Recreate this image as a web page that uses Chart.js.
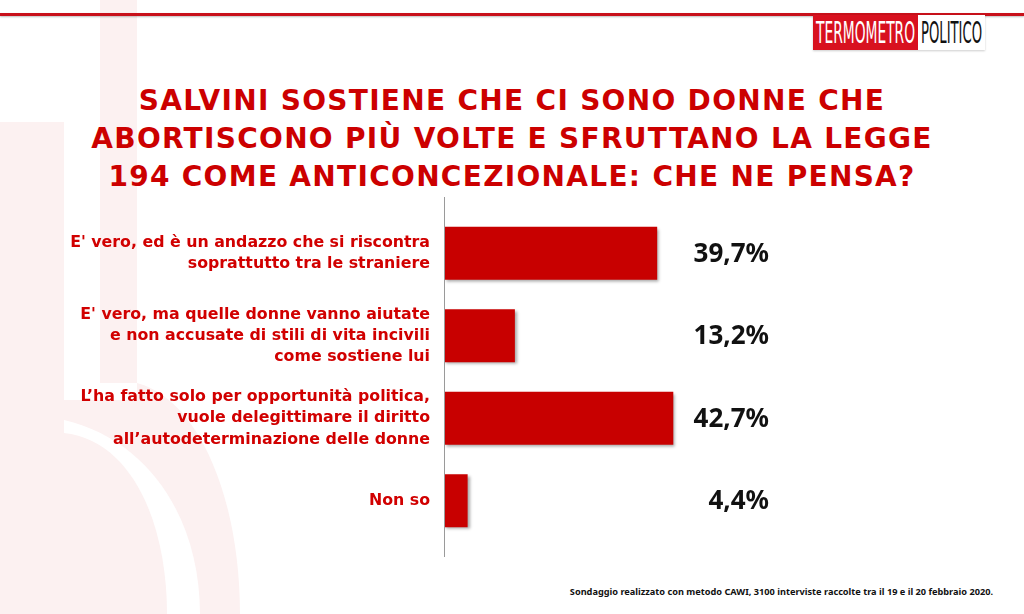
<!DOCTYPE html>
<html>
<head>
    <title>Termometro Politico: Salvini e la legge 194</title>
    <meta charset="UTF-8">
    <script src="https://cdn.jsdelivr.net/npm/chart.js"></script>
    <style>
        html, body { margin: 0; padding: 0; background: #fff; }
        body { width: 1024px; height: 614px; position: relative; overflow: hidden; font-family: "Noto Sans", sans-serif; }
        #topline { position: absolute; left: 0; top: 13px; width: 1024px; height: 3px; background: #c8101a; box-shadow: 0 1px 2px rgba(0,0,0,0.25); }
        #logo { position: absolute; left: 813px; top: 15px; height: 35px; display: flex; box-shadow: 0 1px 2px rgba(0,0,0,0.2); }
        #logo div { height: 35px; overflow: hidden; position: relative; }
        #logo span { position: absolute; left: 3px; top: 0; white-space: nowrap; font-family: "Liberation Sans Narrow", "DejaVu Sans Condensed", sans-serif; font-size: 31px; line-height: 35px; transform-origin: left center; }
        #logo .t { background: #d8111f; color: #fff; width: 105px; }
        #logo .p { background: #fff; color: #111; width: 67px; }
        #title { position: absolute; left: 0; top: 82px; width: 1024px; text-align: center; color: #cc0000; font-family: "DejaVu Sans", sans-serif; font-weight: bold; font-size: 28px; letter-spacing: 1.3px; line-height: 38px; }
        #foot { position: absolute; right: 31px; top: 585px; font-size: 9.2px; font-weight: bold; color: #111; }
        #bg { position: absolute; left: 0; top: 0; }
        canvas { position: absolute; left: 0; top: 0; }
    </style>
</head>
<body>
    <svg id="bg" width="1024" height="614">
        <g fill="#fcf1f1">
            <rect x="100" y="0" width="37" height="383"></rect>
            <rect x="0" y="122" width="64" height="320"></rect>
            <path d="M0 433 L64 433 C130 440 167 520 167 614 L0 614 Z"></path>
            <path d="M137 383 C200 400 240 500 240 614 L200 614 C200 520 150 440 64 420 L64 400 L137 400 Z"></path>
        </g>
    </svg>
    <div id="topline"></div>
    <div id="logo"><div class="t"><span>TERMOMETRO</span></div><div class="p"><span>POLITICO</span></div></div>
    <div id="title">SALVINI SOSTIENE CHE CI SONO DONNE CHE<br>ABORTISCONO PIÙ VOLTE E SFRUTTANO LA LEGGE<br>194 COME ANTICONCEZIONALE: CHE NE PENSA?</div>
    <div id="foot">Sondaggio realizzato con metodo CAWI, 3100 interviste raccolte tra il 19 e il 20 febbraio 2020.</div>
    <canvas id="pollChart" width="1024" height="614"></canvas>
    <script>
        const answers = [
            ["E' vero, ed è un andazzo che si riscontra", "soprattutto tra le straniere"],
            ["E' vero, ma quelle donne vanno aiutate", "e non accusate di stili di vita incivili", "come sostiene lui"],
            ["L’ha fatto solo per opportunità politica,", "vuole delegittimare il diritto", "all’autodeterminazione delle donne"],
            ["Non so"]
        ];
        const percentages = [39.7, 13.2, 42.7, 4.4];
        const valueLabels = ['39,7%', '13,2%', '42,7%', '4,4%'];

        // squeeze the logo words into their boxes
        document.querySelectorAll('#logo span').forEach(s => {
            const box = s.parentElement.clientWidth - 6;
            s.style.transform = 'scaleX(' + (box / s.scrollWidth) + ')';
        });

        const barExtras = {
            id: 'barExtras',
            beforeDatasetsDraw(chart) {
                const ctx = chart.ctx;
                ctx.save();
                ctx.shadowColor = 'rgba(0,0,0,0.35)';
                ctx.shadowOffsetX = 2;
                ctx.shadowOffsetY = 2;
                ctx.shadowBlur = 3;
            },
            afterDatasetsDraw(chart) {
                const ctx = chart.ctx;
                ctx.restore();
                const area = chart.chartArea;
                // axis line, a bit longer than the bars area
                ctx.save();
                ctx.strokeStyle = '#9a9a9a';
                ctx.lineWidth = 1;
                ctx.beginPath();
                ctx.moveTo(area.left + 0.5, area.top - 15);
                ctx.lineTo(area.left + 0.5, area.bottom + 15);
                ctx.stroke();
                // values
                ctx.fillStyle = '#111';
                ctx.font = 'bold 26px "Noto Sans"';
                ctx.textAlign = 'right';
                ctx.textBaseline = 'middle';
                chart.getDatasetMeta(0).data.forEach((bar, i) => {
                    ctx.fillText(valueLabels[i], area.left + 325, bar.y + 1);
                });
                ctx.restore();
            }
        };

        const ctx = document.getElementById('pollChart').getContext('2d');
        new Chart(ctx, {
            type: 'bar',
            data: {
                labels: answers,
                datasets: [{
                    data: percentages,
                    backgroundColor: '#c80000',
                    barPercentage: 0.64,
                    categoryPercentage: 1
                }]
            },
            options: {
                indexAxis: 'y',
                responsive: false,
                animation: false,
                layout: { padding: { top: 212, bottom: 72, left: 0, right: 43 } },
                scales: {
                    x: { display: false, min: 0, max: 100 },
                    y: {
                        grid: { display: false },
                        border: { display: false },
                        afterFit(scale) { scale.width = 444; },
                        ticks: {
                            color: '#d10000',
                            padding: 6,
                            font: { family: 'DejaVu Sans', size: 15.8, weight: 'bold', lineHeight: 1.35 }
                        }
                    }
                },
                plugins: {
                    legend: { display: false },
                    tooltip: { enabled: false }
                }
            },
            plugins: [barExtras]
        });
    </script>
</body>
</html>
